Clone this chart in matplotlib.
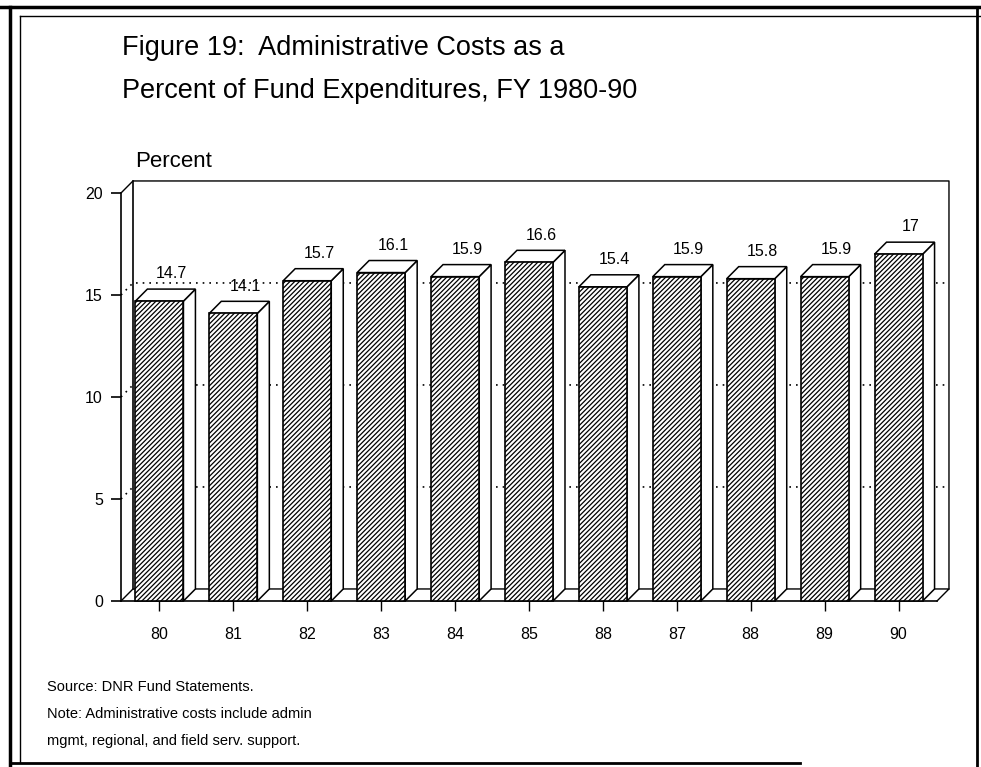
import matplotlib
matplotlib.use("Agg")
import matplotlib.pyplot as plt
from matplotlib.patches import Polygon, Rectangle
from matplotlib.lines import Line2D

plt.rcParams['font.family'] = ['Liberation Sans', 'DejaVu Sans']
plt.rcParams['hatch.linewidth'] = 0.9

anos = ["80", "81", "82", "83", "84", "85", "88", "87", "88", "89", "90"]
porcentajes = [14.7, 14.1, 15.7, 16.1, 15.9, 16.6, 15.4, 15.9, 15.8, 15.9, 17]
etiquetas = ["14.7", "14.1", "15.7", "16.1", "15.9", "16.6", "15.4", "15.9", "15.8", "15.9", "17"]
marcas_y = [0, 5, 10, 15, 20]

W, H = 981, 767
fig = plt.figure(figsize=(W / 100, H / 100), dpi=100)

# ejes del frente: x en categorias, y en porcentaje
x_izq, x_der = -0.52, 10.52
ax = fig.add_axes([121 / W, (H - 601) / H, 816 / W, 408 / H])
ax.set_xlim(x_izq, x_der)
ax.set_ylim(0, 20)

# profundidad del efecto 3D en unidades de datos
DX, DY = 0.162, 0.59
ancho = 0.65

for s in ["top", "right"]:
    ax.spines[s].set_visible(False)
for s in ["left", "bottom"]:
    ax.spines[s].set_linewidth(1.2)

ax.set_yticks(marcas_y)
ax.set_yticklabels([str(m) for m in marcas_y], fontsize=11.5)
ax.set_xticks(range(len(anos)))
ax.set_xticklabels(anos, fontsize=11.5)
ax.tick_params(axis="y", direction="out", length=7, width=1.2, pad=6)
ax.tick_params(axis="x", direction="out", length=7, width=1.0, pad=12)

def linea(xs, ys, **kw):
    kw.setdefault("color", "black")
    kw.setdefault("lw", 1.0)
    ax.add_line(Line2D(xs, ys, clip_on=False, **kw))

# pared del fondo y piso
linea([x_izq, x_izq + DX, x_der + DX, x_der + DX], [20, 20 + DY, 20 + DY, DY])
linea([x_izq + DX, x_izq + DX], [DY, 20 + DY], lw=1.2)
linea([x_izq, x_izq + DX, x_der + DX, x_der], [0, DY, DY, 0])

# lineas de guia punteadas
for v in [5, 10, 15]:
    linea([x_izq, x_izq + DX, x_der + DX], [v, v + DY, v + DY],
          ls=(0, (1, 3)), lw=1.2, zorder=1)

# barras 3D
for i, (v, txt) in enumerate(zip(porcentajes, etiquetas)):
    x0 = i - ancho / 2
    x1 = i + ancho / 2
    lado = Polygon([(x1, 0), (x1 + DX, DY), (x1 + DX, v + DY), (x1, v)],
                   closed=True, facecolor="white", edgecolor="black",
                   lw=1.1, zorder=3, clip_on=False)
    tapa = Polygon([(x0, v), (x1, v), (x1 + DX, v + DY), (x0 + DX, v + DY)],
                   closed=True, facecolor="white", edgecolor="black",
                   lw=1.1, zorder=3, clip_on=False)
    frente = Rectangle((x0, 0), ancho, v, facecolor="white", edgecolor="black",
                       hatch="///////", lw=1.2, zorder=4, clip_on=False)
    ax.add_patch(lado)
    ax.add_patch(tapa)
    ax.add_patch(frente)
    ax.text(i + 0.16, v + DY + 0.75, txt, ha="center", va="center",
            fontsize=11.5, zorder=5)

# titulos y notas
fig.text(122 / W, 1 - 55 / H, "Figure 19:  Administrative Costs as a",
         fontsize=19.5, va="baseline")
fig.text(122 / W, 1 - 98 / H, "Percent of Fund Expenditures, FY 1980-90",
         fontsize=19.5, va="baseline")
fig.text(135 / W, 1 - 167 / H, "Percent", fontsize=16, va="baseline")

notas = ["Source: DNR Fund Statements.",
         "Note: Administrative costs include admin",
         "mgmt, regional, and field serv. support."]
for k, n in enumerate(notas):
    fig.text(47 / W, 1 - (687 + 27 * k) / H, n, fontsize=10.5, va="center")

# marco de la pagina
borde = dict(color="black", transform=fig.transFigure)
fig.add_artist(Line2D([0, 1], [1 - 7 / H, 1 - 7 / H], lw=2.5, **borde))
fig.add_artist(Line2D([10 / W, 10 / W], [0, 1 - 7 / H], lw=2.5, **borde))
fig.add_artist(Line2D([20 / W, 20 / W], [5 / H, 1 - 16 / H], lw=1.0, **borde))
fig.add_artist(Line2D([20 / W, 1], [1 - 16 / H, 1 - 16 / H], lw=1.0, **borde))
fig.add_artist(Line2D([977 / W, 977 / W], [0, 1 - 7 / H], lw=2.0, **borde))
fig.add_artist(Line2D([10 / W, 800 / W], [4 / H, 4 / H], lw=2.0, **borde))

fig.savefig("out.png", dpi=100)
